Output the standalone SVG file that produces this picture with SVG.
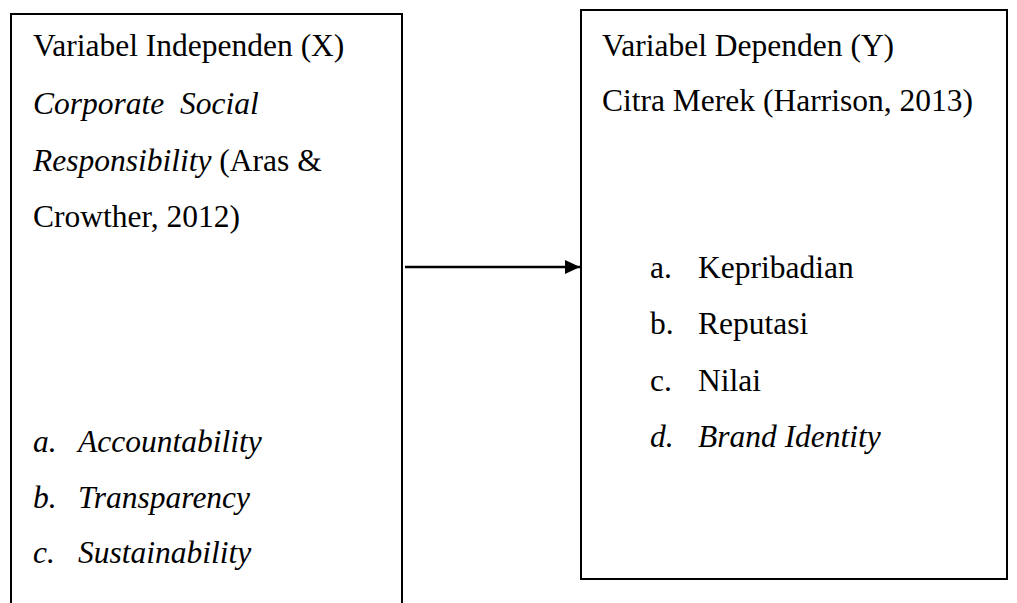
<svg xmlns="http://www.w3.org/2000/svg" width="1017" height="603" viewBox="0 0 1017 603">
<style>
.box{fill:#fff;stroke:#000;stroke-width:2}
.t{font-family:"Liberation Serif","Times New Roman",serif;font-size:31.5px;fill:#000}
.i{font-style:italic}
.conn{stroke:#000;stroke-width:2.5;fill:none}
</style>
<defs>
<marker id="ah" markerUnits="userSpaceOnUse" markerWidth="16" markerHeight="16" refX="15" refY="8" orient="auto">
<path d="M0,1 L15,8 L0,15 Z" fill="#000"/>
</marker>
</defs>
<rect width="1017" height="603" fill="#fff"/>
<g id="node-x">
<rect class="box" x="11" y="14" width="391" height="620"/>
<text class="t" x="33" y="56">Variabel Independen (X)</text>
<text class="t i" x="33" y="114" xml:space="preserve">Corporate  Social</text>
<text class="t" x="33" y="171"><tspan class="i">Responsibility</tspan> (Aras &amp;</text>
<text class="t" x="33" y="227">Crowther, 2012)</text>
<text class="t i" x="33" y="452">a.</text><text class="t i" x="78" y="452">Accountability</text>
<text class="t i" x="33" y="508">b.</text><text class="t i" x="78" y="508">Transparency</text>
<text class="t i" x="33" y="563">c.</text><text class="t i" x="78" y="563">Sustainability</text>
</g>
<g id="node-y">
<rect class="box" x="581" y="10" width="426" height="569"/>
<text class="t" x="602" y="56">Variabel Dependen (Y)</text>
<text class="t" x="602" y="111">Citra Merek (Harrison, 2013)</text>
<text class="t" x="650" y="278">a.</text><text class="t" x="698" y="278">Kepribadian</text>
<text class="t" x="650" y="334">b.</text><text class="t" x="698" y="334">Reputasi</text>
<text class="t" x="650" y="391">c.</text><text class="t" x="698" y="391">Nilai</text>
<text class="t i" x="650" y="447">d.</text><text class="t i" x="698" y="447">Brand Identity</text>
</g>
<g id="connectors">
<line class="conn" x1="405" y1="267" x2="580" y2="267" marker-end="url(#ah)"/>
</g>
</svg>
